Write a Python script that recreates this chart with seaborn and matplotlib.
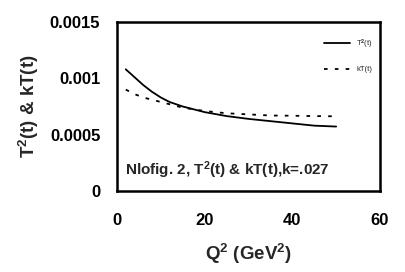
import matplotlib
matplotlib.use("Agg")
import matplotlib.pyplot as plt
import seaborn as sns
import pandas as pd

q2 = [2, 4, 6, 8, 10, 12, 15, 20, 25, 30, 35, 40, 45, 50]
t2 = [0.00108, 0.00101, 0.00094, 0.00088, 0.00083, 0.00079, 0.00075, 0.00070, 0.000665, 0.00064, 0.00062, 0.000600, 0.000580, 0.000572]
kt = [0.00090, 0.00086, 0.00083, 0.00081, 0.00079, 0.00077, 0.00074, 0.00071, 0.00069, 0.00068, 0.00067, 0.000668, 0.000665, 0.000663]
series_names = ["T$^2$(t)", "kT(t)"]

sns.set_theme(style="white")
plt.rcParams['font.family'] = ['Liberation Sans', 'DejaVu Sans']
plt.rcParams['mathtext.fontset'] = 'custom'
plt.rcParams['mathtext.rm'] = 'Liberation Sans:bold'
plt.rcParams['mathtext.it'] = 'Liberation Sans:bold'

df = pd.DataFrame({"Q2": q2 * 2, "val": t2 + kt,
                   "series": [series_names[0]] * len(q2) + [series_names[1]] * len(q2)})

fig = plt.figure(figsize=(4.06, 2.72), dpi=100)
ax = fig.add_axes([117 / 406, 1 - 191 / 272, (380 - 117) / 406, (191 - 22) / 272])
sns.lineplot(data=df, x="Q2", y="val", hue="series", style="series",
             palette=["black", "black"], dashes=[(None, None), (2, 4)],
             linewidth=1.3, ax=ax, legend=True)

ax.set_xlim(0, 60)
ax.set_ylim(0, 0.0015)
ax.set_xticks([0, 20, 40, 60])
ax.set_yticks([0, 0.0005, 0.001, 0.0015])
ax.set_xticklabels(["0", "20", "40", "60"])
ax.set_yticklabels(["0", "0.0005", "0.001", "0.0015"])
ax.tick_params(direction="in", length=4, width=1.2, colors="black", labelsize=12)
ax.tick_params(axis="x", pad=16)
ax.tick_params(axis="y", pad=12)
for lab in ax.get_xticklabels() + ax.get_yticklabels():
    lab.set_fontweight("bold")
for s in ax.spines.values():
    s.set_linewidth(1.8)
    s.set_color("black")
ax.set_xlabel("Q$^2$ (GeV$^2$)", fontsize=13.5, fontweight="bold", labelpad=10)
ax.set_ylabel("T$^2$(t) & kT(t)", fontsize=13.5, fontweight="bold", labelpad=6)

leg = ax.legend(loc="upper right", frameon=False, fontsize=5.5, handlelength=3.5,
                labelspacing=2.0, bbox_to_anchor=(1.0, 0.95))
ax.text(0.03, 0.06, "Nlofig. 2, T$^2$(t) & kT(t),k=.027", transform=ax.transAxes,
        fontsize=11, fontweight="bold", ha="left", va="bottom")

fig.savefig("out.png", dpi=100)
